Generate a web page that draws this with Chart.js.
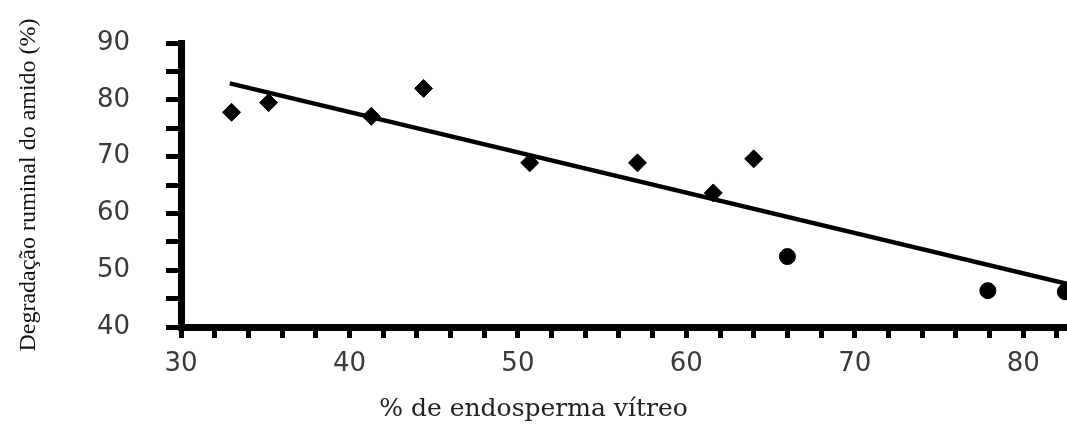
<!DOCTYPE html>
<html>
<head>
<meta charset="utf-8">
<script src="https://cdn.jsdelivr.net/npm/chart.js@4/dist/chart.umd.min.js"></script>
<style>
  html, body { margin: 0; padding: 0; background: #fff; }
  #wrap { width: 1067px; height: 427px; }
</style>
</head>
<body>
<div id="wrap"><canvas id="grafico" width="1067" height="427"></canvas></div>
<script>
// pontos (% endosperma vítreo, degradação ruminal %)
const losangoX = [33.0, 35.2, 41.3, 44.4, 50.7, 57.1, 61.6, 64.0];
const losangoY = [77.8, 79.5, 77.1, 82.0, 68.9, 68.9, 63.6, 69.6];
const circuloX = [66.0, 77.9, 82.5];
const circuloY = [52.4, 46.4, 46.2];
// reta de regressão (extremos)
const retaX = [32.9, 82.6];
const retaY = [82.9, 47.6];

const xTicks = [30,32,34,36,38,40,42,44,46,48,50,52,54,56,58,60,62,64,66,68,70,72,74,76,78,80,82];
const yTicks = [40,45,50,55,60,65,70,75,80,85,90];

function pares(xs, ys){ return xs.map((x,i)=>({x:x, y:ys[i]})); }

const ctx = document.getElementById('grafico').getContext('2d');
new Chart(ctx,{
    type:'scatter',
    data:{
        datasets:[
            {
                type:'line',
                data:pares(retaX,retaY),
                borderColor:'#000',
                borderWidth:4.5,
                pointRadius:0,
                fill:false
            },
            {
                data:pares(losangoX,losangoY),
                pointStyle:'rectRot',
                pointRadius:9,
                backgroundColor:'#000',
                borderColor:'#000'
            },
            {
                data:pares(circuloX,circuloY),
                pointStyle:'circle',
                pointRadius:8,
                backgroundColor:'#000',
                borderColor:'#000'
            }
        ]
    },
    options:{
        responsive:false,
        animation:false,
        layout:{ autoPadding:false, padding:{ top:43, right:0, left:0, bottom:0 } },
        plugins:{
            legend:{ display:false },
            tooltip:{ enabled:false },
            title:{
                display:true,
                position:'bottom',
                text:'% de endosperma vítreo',
                color:'#222',
                font:{ family:'DejaVu Serif', size:25, weight:'normal' },
                padding:{ top:0, bottom:3 }
            }
        },
        scales:{
            x:{
                type:'linear',
                min:30, max:82.6,
                afterBuildTicks:s=>{ s.ticks = xTicks.map(v=>({value:v})); },
                afterFit:s=>{ s.height = 67; s.paddingRight = 0; s.paddingLeft = 0; },
                border:{ display:true, color:'#000', width:7 },
                grid:{ drawOnChartArea:false, drawTicks:true, tickLength:11, tickWidth:5, tickColor:'#000' },
                ticks:{
                    autoSkip:false, maxRotation:0,
                    padding:11,
                    color:'#3a3a3a',
                    font:{ family:'DejaVu Sans', size:26 },
                    callback:v=> v % 10 === 0 ? v : ''
                }
            },
            y:{
                min:40, max:90,
                afterBuildTicks:s=>{ s.ticks = yTicks.map(v=>({value:v})); },
                afterFit:s=>{ s.width = 181; s.paddingTop = 0; s.paddingBottom = 0; },
                border:{ display:true, color:'#000', width:7 },
                grid:{ drawOnChartArea:false, drawTicks:true, tickLength:15, tickWidth:5, tickColor:'#000' },
                ticks:{
                    autoSkip:false,
                    padding:36,
                    color:'#3a3a3a',
                    font:{ family:'DejaVu Sans', size:26 },
                    callback:v=> v % 10 === 0 ? v : ''
                },
                title:{
                    display:true,
                    text:'Degradação ruminal do amido (%)',
                    color:'#111',
                    font:{ family:'Liberation Serif', size:24 },
                    padding:{ top:14, bottom:0 }
                }
            }
        }
    }
});
</script>
</body>
</html>
